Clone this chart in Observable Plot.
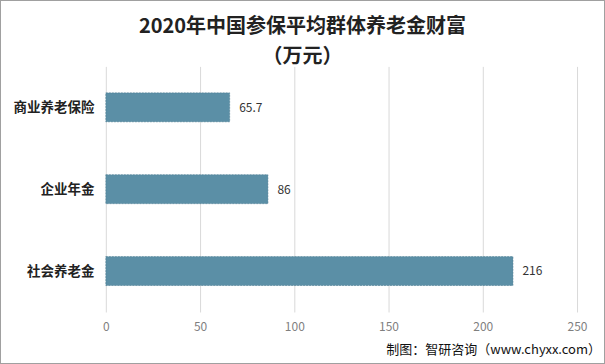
<!DOCTYPE html>
<html>
<head>
<meta charset="utf-8">
<script src="https://cdn.jsdelivr.net/npm/d3@7"></script>
<script src="https://cdn.jsdelivr.net/npm/@observablehq/plot@0.6"></script>
<style>
  html, body { margin: 0; padding: 0; background: #fff; }
  #wrap { position: relative; width: 605px; height: 364px; box-sizing: border-box; border: 1px solid #a0a0a0; overflow: hidden; font-family: "Noto Sans CJK SC", "Noto Sans", sans-serif; }
  #title { position: absolute; left: 0; top: 9px; width: 100%; text-align: center; font-weight: bold; font-size: 20px; line-height: 30px; color: #222; }
  #chart { position: absolute; left: -1px; top: -1px; }
  #source { position: absolute; right: 3px; bottom: 5px; font-size: 13px; color: #111; }
</style>
</head>
<body>
<div id="wrap">
  <div id="chart"></div>
  <div id="title">2020年中国参保平均群体养老金财富<br>（万元）</div>
  <div id="source">制图：智研咨询（www.chyxx.com）</div>
</div>
<script>
const categories = ["商业养老保险", "企业年金", "社会养老金"];
const values = [65.7, 86, 216];
const xTicks = [0, 50, 100, 150, 200, 250];

const data = categories.map((c, i) => ({category: c, value: values[i]}));

const chart = Plot.plot({
  width: 605,
  height: 364,
  marginLeft: 106,
  marginRight: 27,
  marginTop: 67,
  marginBottom: 51,
  style: {fontFamily: '"Noto Sans CJK SC", "Noto Sans", sans-serif', background: "transparent"},
  x: {domain: [0, 250], ticks: xTicks, label: null},
  y: {domain: categories, label: null, paddingInner: 0.646, paddingOuter: 0.323},
  marks: [
    Plot.gridX(xTicks, {stroke: "#d9d9d9", strokeOpacity: 1, strokeWidth: 1}),
    Plot.axisX({ticks: xTicks, tickSize: 0, tickPadding: 10, fontSize: 12, fill: "#7f7f7f", label: null}),
    Plot.axisY({tickSize: 0, tickPadding: 12, fontSize: 13.5, fontWeight: "bold", fill: "#222", label: null}),
    Plot.barX(data, {x: "value", y: "category", fill: "#5b8fa6", stroke: "#4b7c92", strokeWidth: 0.6, strokeDasharray: "2,1"}),
    Plot.text(data, {x: "value", y: "category", text: d => String(d.value), textAnchor: "start", dx: 9, fontSize: 12, fill: "#333"})
  ]
});
document.getElementById("chart").appendChild(chart);
</script>
</body>
</html>
